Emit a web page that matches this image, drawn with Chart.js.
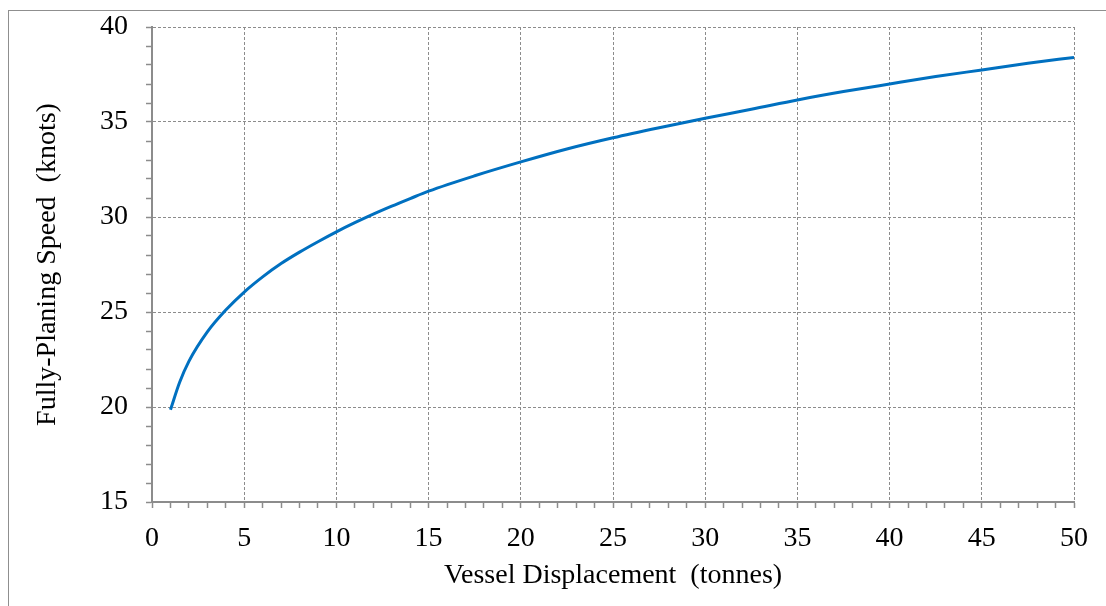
<!DOCTYPE html>
<html>
<head>
<meta charset="utf-8">
<script src="https://cdn.jsdelivr.net/npm/chart.js@4"></script>
<style>
  html, body { margin: 0; padding: 0; background: #fff; overflow: hidden; }
  #frame { position: absolute; left: 8px; top: 10px; width: 1300px; height: 800px; border: 1px solid #8f8f8f; box-sizing: border-box; }
  #wrap { position: absolute; left: 0; top: 0; width: 1106px; height: 606px; }
</style>
</head>
<body>
<div id="frame"></div>
<div id="wrap"><canvas id="c" width="1106" height="606"></canvas></div>
<script>
// Data
const displacement = [1, 1.5, 2, 3, 4, 5, 6, 7, 8, 9, 10, 11, 12, 13, 14, 15, 17.5, 20, 22.5, 25, 27.5, 30, 32.5, 35, 37.5, 40, 42.5, 45, 47.5, 50];
const speed = [19.85, 21.3, 22.4, 23.95, 25.1, 26.05, 26.85, 27.55, 28.15, 28.7, 29.22, 29.7, 30.15, 30.57, 30.97, 31.36, 32.17, 32.9, 33.58, 34.17, 34.7, 35.2, 35.67, 36.16, 36.6, 37.0, 37.39, 37.74, 38.09, 38.4];
const xTitle = 'Vessel Displacement  (tonnes)';
const yTitle = 'Fully-Planing Speed  (knots)';
const xRange = [0, 50];
const yRange = [15, 40];
const majorStep = 5;

const points = displacement.map((x, i) => ({ x: x, y: speed[i] }));
const gridGray = '#8c8c8c';
const axisGray = '#8c8c8c';
const fontFamily = '"Liberation Serif", "Times New Roman", serif';

const isMajor = v => Math.abs(v % majorStep) < 1e-9;

new Chart(document.getElementById('c'), {
  type: 'line',
  data: {
    datasets: [{
      data: points,
      borderColor: '#0070C0',
      borderWidth: 3,
      pointRadius: 0,
      fill: false,
      cubicInterpolationMode: 'monotone'
    }]
  },
  options: {
    responsive: false,
    animation: false,
    events: [],
    layout: { padding: { top: 27, right: 32, left: 0, bottom: 0 } },
    plugins: { legend: { display: false }, tooltip: { enabled: false } },
    scales: {
      x: {
        type: 'linear',
        min: xRange[0], max: xRange[1],
        afterFit: s => { s.height = 104; },
        ticks: {
          stepSize: 1, autoSkip: false, maxRotation: 0, padding: 14,
          color: '#000',
          font: { family: fontFamily, size: 28 },
          callback: v => isMajor(v) ? String(v) : ''
        },
        grid: {
          color: ctx => (ctx.tick && isMajor(ctx.tick.value)) ? gridGray : 'rgba(0,0,0,0)',
          tickColor: axisGray,
          tickBorderDash: [],
          lineWidth: 1,
          tickWidth: 1.5,
          tickLength: 6,
          drawTicks: true
        },
        border: { display: true, color: axisGray, width: 2, dash: [3, 2] },
        title: {
          display: true, text: xTitle, color: '#000',
          font: { family: fontFamily, size: 28 },
          padding: { top: 0, bottom: 14 }
        }
      },
      y: {
        type: 'linear',
        min: yRange[0], max: yRange[1],
        afterFit: s => { s.width = 152; s.paddingTop = 0; s.paddingBottom = 0; },
        ticks: {
          stepSize: 1, autoSkip: false, padding: 18,
          color: '#000',
          font: { family: fontFamily, size: 28 },
          callback: v => isMajor(v) ? String(v) : ''
        },
        grid: {
          color: ctx => (ctx.tick && isMajor(ctx.tick.value)) ? gridGray : 'rgba(0,0,0,0)',
          tickColor: axisGray,
          tickBorderDash: [],
          lineWidth: 1,
          tickWidth: 1.5,
          tickLength: 6,
          drawTicks: true
        },
        border: { display: true, color: axisGray, width: 2, dash: [3, 2] },
        title: {
          display: true, text: yTitle, color: '#000',
          font: { family: fontFamily, size: 28 },
          padding: { top: 31, bottom: 0 }
        }
      }
    }
  }
});
</script>
</body>
</html>
